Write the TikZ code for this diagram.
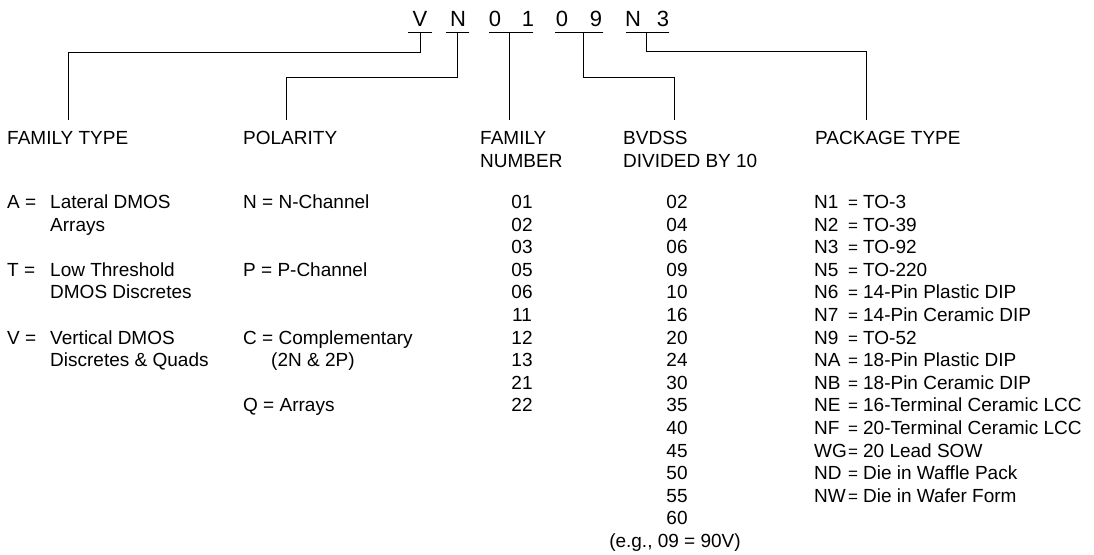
\documentclass[tikz,border=0pt]{standalone}
\usepackage{fontspec}
\setmainfont{Liberation Sans}
\newcommand{\pcode}[1]{\makebox[34pt][l]{#1}{\fontsize{17}{20}\selectfont=}\hspace{5pt}}
\begin{document}
\begin{tikzpicture}[x=1pt,y=-1pt,
  txt/.style={inner sep=0pt, font=\fontsize{19}{22.6}\selectfont},
  big/.style={inner sep=0pt, font=\fontsize{22}{26}\selectfont, anchor=base},
  wire/.style={line width=0.9pt, line cap=rect}]
\useasboundingbox (0,0) rectangle (1094,554);
% part number letters
\foreach \ch/\xx [count=\k] in {V/420,N/458,0/495,1/528,0/562,9/596,N/633,3/663}
  \node[big] (L\k) at (\xx,26) {\ch};
% underlines
\coordinate (uVa) at (408,32); \coordinate (uVb) at (432,32);
\coordinate (uNa) at (446,32); \coordinate (uNb) at (469,32);
\coordinate (uFa) at (489,32); \coordinate (uFb) at (533,32);
\coordinate (uBa) at (555,32); \coordinate (uBb) at (603,32);
\coordinate (uPa) at (626,32); \coordinate (uPb) at (669,32);
\draw[wire] (uVa) -- (uVb);
\draw[wire] (uNa) -- (uNb);
\draw[wire] (uFa) -- (uFb);
\draw[wire] (uBa) -- (uBb);
\draw[wire] (uPa) -- (uPb);
\coordinate (uV) at (420,32); \coordinate (uN) at (457,32);
\coordinate (uF) at (509,32); \coordinate (uB) at (583,32);
\coordinate (uP) at (646,32);
% connector ends
\coordinate (eFT) at (68,120);
\coordinate (ePO) at (286,120);
\coordinate (eFN) at (509,120);
\coordinate (eBV) at (674,120);
\coordinate (ePK) at (866,120);
\draw[wire] (uV) -- (420,52) -| (eFT);
\draw[wire] (uN) -- (457,77) -| (ePO);
\draw[wire] (uF) -- (eFN);
\draw[wire] (uB) -- (583,77) -| (eBV);
\draw[wire] (uP) -- (646,51) -| (ePK);
% headers
\node[txt, anchor=base west] (hFT) at (7,144) {FAMILY TYPE};
\node[txt, anchor=base west] (hPO) at (243,144) {POLARITY};
\node[txt, anchor=base west] (hFN1) at (480,144) {FAMILY};
\node[txt, anchor=base west] (hFN2) at (480,167) {NUMBER};
\node[txt, anchor=base west] (hBV1) at (623,144) {BVDSS};
\node[txt, anchor=base west] (hBV2) at (623,167) {DIVIDED BY 10};
\node[txt, anchor=base west] (hPK) at (815,144) {PACKAGE TYPE};
% family type
\node[txt, anchor=base west] (fA) at (7,208.4) {A =};
\node[txt, anchor=base west] (fA1) at (50,208.4) {Lateral DMOS};
\node[txt, anchor=base west] (fA2) at (50,231.0) {Arrays};
\node[txt, anchor=base west] (fT) at (7,276.2) {T =};
\node[txt, anchor=base west] (fT1) at (50,276.2) {Low Threshold};
\node[txt, anchor=base west] (fT2) at (50,298.8) {DMOS Discretes};
\node[txt, anchor=base west] (fV) at (7,344.0) {V =};
\node[txt, anchor=base west] (fV1) at (50,344.0) {Vertical DMOS};
\node[txt, anchor=base west] (fV2) at (50,366.6) {Discretes \& Quads};
% polarity
\node[txt, anchor=base west] (pN) at (243,208.4) {N = N-Channel};
\node[txt, anchor=base west] (pP) at (243,276.2) {P = P-Channel};
\node[txt, anchor=base west] (pC) at (243,344.0) {C = Complementary};
\node[txt, anchor=base west] (pC2) at (271,366.6) {(2N \& 2P)};
\node[txt, anchor=base west] (pQ) at (243,411.8) {Q = Arrays};
% family number
\foreach \t [count=\i] in {01,02,03,05,06,11,12,13,21,22}
  \node[txt, anchor=base] (fn\i) at (522,{208.4+(\i-1)*22.6}) {\t};
% bvdss
\foreach \t [count=\i] in {02,04,06,09,10,16,20,24,30,35,40,45,50,55,60}
  \node[txt, anchor=base] (bv\i) at (677,{208.4+(\i-1)*22.6}) {\t};
\node[txt, anchor=base] (eg) at (675,547.4) {(e.g., 09 = 90V)};
% package type
\foreach \c/\d [count=\i] in {N1/TO-3,N2/TO-39,N3/TO-92,N5/TO-220,
  N6/14-Pin Plastic DIP,N7/14-Pin Ceramic DIP,N9/TO-52,NA/18-Pin Plastic DIP,
  NB/18-Pin Ceramic DIP,NE/16-Terminal Ceramic LCC,NF/20-Terminal Ceramic LCC,
  WG/20 Lead SOW,ND/Die in Waffle Pack,NW/Die in Wafer Form}
  \node[txt, anchor=base west] (pk\i) at (814,{208.4+(\i-1)*22.6}) {\pcode{\c}\d};
\end{tikzpicture}
\end{document}
